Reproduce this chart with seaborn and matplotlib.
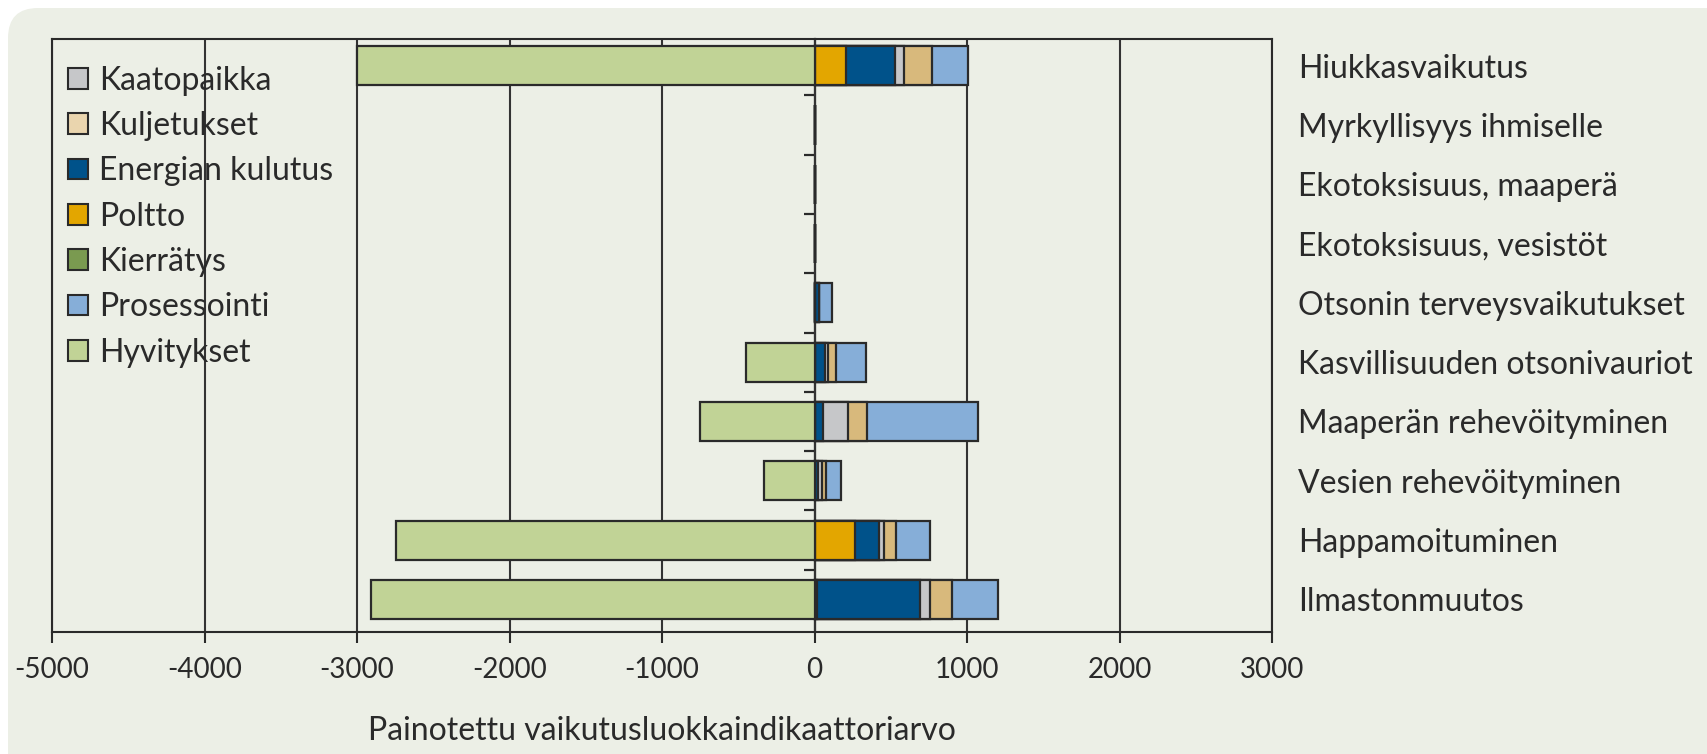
import matplotlib
matplotlib.use("Agg")
import matplotlib.pyplot as plt
from matplotlib.patches import Patch, FancyBboxPatch
import numpy as np
import seaborn as sns

# vaikutusluokat (ylhäältä alas)
categories = [
    "Hiukkasvaikutus",
    "Myrkyllisyys ihmiselle",
    "Ekotoksisuus, maaperä",
    "Ekotoksisuus, vesistöt",
    "Otsonin terveysvaikutukset",
    "Kasvillisuuden otsonivauriot",
    "Maaperän rehevöityminen",
    "Vesien rehevöityminen",
    "Happamoituminen",
    "Ilmastonmuutos",
]

# arvot luettu kuvasta
poltto = [207, 0, 0, 0, 0, 0, 0, 0, 263, 15]
energia = [323, 0, 0, 0, 30, 70, 57, 26, 157, 679]
kaatopaikka = [59, 0, 0, 0, 0, 20, 164, 22, 37, 63]
kuljetukset = [181, 0, 0, 0, 0, 52, 120, 26, 75, 147]
kierratys = [0, 0, 0, 0, 0, 0, 0, 0, 0, 0]
prosessointi = [236, 0, 0, 0, 88, 195, 729, 98, 226, 298]
hyvitykset = [-3000, 0, 0, 0, 0, -450, -750, -332, -2747, -2909]

x_ticks = [-5000, -4000, -3000, -2000, -1000, 0, 1000, 2000, 3000]
x_tick_labels = ["-5000", "-4000", "-3000", "-2000", "-1000", "0", "1000", "2000", "3000"]

# värit
c_kaatopaikka = "#C6C7C9"
c_kuljetukset = "#D8B97C"
c_energia = "#00528A"
c_poltto = "#E3A600"
c_kierratys = "#7A9A50"
c_prosessointi = "#86AED8"
c_hyvitykset = "#C1D396"
bg = "#ECEFE6"
ink = "#2a2a2a"

sns.set_theme(style="white")
plt.rcParams["font.family"] = ["Lato", "DejaVu Sans"]
plt.rcParams["axes.unicode_minus"] = False

fig = plt.figure(figsize=(17.08, 7.54), dpi=100)
fig.patch.set_facecolor("white")
panel = FancyBboxPatch((0.08, -0.5), 20, 7.54 - 0.08 + 0.5,
                       boxstyle="round,pad=0,rounding_size=0.3",
                       transform=fig.dpi_scale_trans,
                       facecolor=bg, edgecolor="none", zorder=-10)
fig.add_artist(panel)

ax = fig.add_axes([52 / 1708, 122 / 754, 1220 / 1708, 593 / 754])
ax.set_facecolor("none")

# pinotut palkit: kumulatiiviset summat, isoin ensin
stack = np.array([poltto, energia, kaatopaikka, kuljetukset, prosessointi])
stack_colors = [c_poltto, c_energia, c_kaatopaikka, c_kuljetukset, c_prosessointi]
cum = np.cumsum(stack, axis=0)
for vals, col in reversed(list(zip(cum, stack_colors))):
    sns.barplot(x=vals, y=categories, orient="h", color=col, saturation=1,
                width=0.66, edgecolor=ink, linewidth=1.6, errorbar=None,
                ax=ax, zorder=3)
sns.barplot(x=hyvitykset, y=categories, orient="h", color=c_hyvitykset,
            saturation=1, width=0.66, edgecolor=ink, linewidth=1.6,
            errorbar=None, ax=ax, zorder=3)

ax.set_xlim(-5000, 3000)
ax.set_ylim(9.55, -0.45)
ax.set_xlabel("Painotettu vaikutusluokkaindikaattoriarvo", fontsize=23,
              color=ink, labelpad=24)
ax.set_ylabel("")

ax.set_xticks(x_ticks)
ax.set_xticklabels(x_tick_labels)
ax.tick_params(axis="x", direction="out", length=8, width=1.5, color=ink,
               labelsize=20, labelcolor=ink, pad=10, bottom=True)
ax.yaxis.tick_right()
ax.tick_params(axis="y", length=0, pad=19, labelsize=23, labelcolor=ink)

ax.set_axisbelow(True)
ax.grid(axis="x", color="#333333", linewidth=1.5)
ax.grid(axis="y", visible=False)
for sp in ax.spines.values():
    sp.set_visible(True)
    sp.set_color(ink)
    sp.set_linewidth(1.5)

# nolla-akseli ja väliviivat luokkien välissä
sec = ax.secondary_yaxis(5000 / 8000)
sec.set_alignment("left")
sec.set_yticks([0.5, 1.5, 2.5, 3.5, 4.5, 5.5, 6.5, 7.5, 8.5])
sec.tick_params(axis="y", direction="out", length=8, width=1.6, color=ink,
                labelleft=False, labelright=False)
sec.spines["left"].set_color(ink)
sec.spines["left"].set_linewidth(1.6)

handles = [
    Patch(facecolor=c_kaatopaikka, edgecolor=ink, linewidth=1.5, label="Kaatopaikka"),
    Patch(facecolor="#EAD5AE", edgecolor=ink, linewidth=1.5, label="Kuljetukset"),
    Patch(facecolor=c_energia, edgecolor=ink, linewidth=1.5, label="Energian kulutus"),
    Patch(facecolor=c_poltto, edgecolor=ink, linewidth=1.5, label="Poltto"),
    Patch(facecolor=c_kierratys, edgecolor=ink, linewidth=1.5, label="Kierrätys"),
    Patch(facecolor=c_prosessointi, edgecolor=ink, linewidth=1.5, label="Prosessointi"),
    Patch(facecolor=c_hyvitykset, edgecolor=ink, linewidth=1.5, label="Hyvitykset"),
]
leg = ax.legend(handles=handles, loc="upper left", bbox_to_anchor=(0.013, 0.955),
                frameon=False, fontsize=23, handlelength=0.62, handleheight=0.62,
                handletextpad=0.35, labelspacing=0.48, borderaxespad=0, borderpad=0)
for t in leg.get_texts():
    t.set_color(ink)

fig.savefig("out.png", dpi=100, facecolor=fig.get_facecolor())
